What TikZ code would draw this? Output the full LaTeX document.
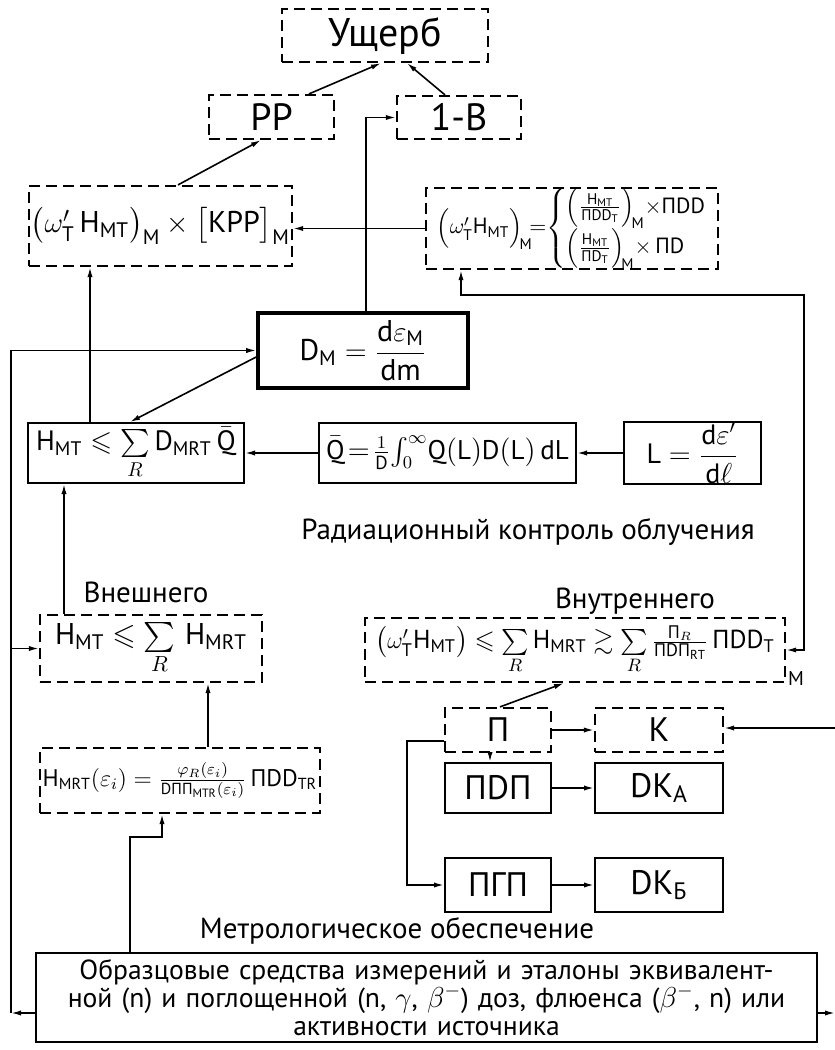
\documentclass[tikz,border=0pt]{standalone}
\usepackage{amsmath,amssymb}
\usepackage{fontspec}
\setmainfont{PT Sans}
\usetikzlibrary{arrows.meta}
\newcommand{\tx}[1]{\text{#1}}
\begin{document}
\begin{tikzpicture}[x=0.5pt,y=-0.5pt,
  base/.style={inner sep=0pt,font=\fontsize{15}{18}\selectfont},
  dbox/.style={base,draw,line width=1.1pt,dash pattern=on 5.5pt off 3pt},
  sbox/.style={base,draw,line width=1pt},
  tbox/.style={base,draw,line width=1.8pt},
  lbl/.style={inner sep=0pt,font=\fontsize{14.5}{17}\selectfont},
  arr/.style={line width=0.8pt,-{Latex[length=5pt,width=2.6pt]}},
  arrb/.style={line width=0.8pt,{Latex[length=5pt,width=2.6pt]}-{Latex[length=5pt,width=2.6pt]}},
  sz/.style 2 args={minimum width=#1pt,minimum height=#2pt}]
\useasboundingbox (0,0) rectangle (835,1050);
\fill[white] (0,0) rectangle (835,1050);

% boxes
\node[dbox,sz={103}{26.5},font=\fontsize{20}{24}\selectfont] (ush) at (385,35.5) {Ущерб};
\node[dbox,sz={62.5}{22},font=\fontsize{19}{22}\selectfont] (rr) at (271.5,117) {РР};
\node[dbox,sz={62}{21.5},font=\fontsize{19}{22}\selectfont] (ib) at (459,117.5) {1-В};
\node[dbox,sz={131.5}{40}] (tl) at (160.5,226)
  {$\bigl(\omega'_{\tx{Т}}\,\tx{H}_{\tx{МТ}}\bigr)_{\tx{М}}\times\bigl[\tx{КРР}\bigr]_{\tx{М}}$};
\node[dbox,sz={146}{40.5},font=\fontsize{11}{12}\selectfont] (tr) at (572,228.5)
  {$\Bigl(\omega'_{\tx{Т}}\tx{H}_{\tx{МТ}}\Bigr)_{\!\tx{М}}\!{=}\!\left\{\renewcommand{\arraystretch}{1.05}\begin{array}{@{}l@{}}\left(\frac{\tx{H}_{\tx{МТ}}}{\tx{ПDD}_{\tx{Т}}}\right)_{\!\tx{М}}\!{\times}\tx{ПDD}\\
   \left(\frac{\tx{H}_{\tx{МТ}}}{\tx{ПD}_{\tx{Т}}}\right)_{\!\tx{М}}\!{\times}\,\tx{ПD}\end{array}\right.$};
\node[tbox,sz={105}{37.5}] (dm) at (363,350.5)
  {$\tx{D}_{\tx{М}}=\dfrac{\tx{d}\varepsilon_{\tx{М}}}{\tx{dm}}$};
\node[sbox,sz={108}{30},font=\fontsize{14}{17}\selectfont] (hq) at (136,453)
  {$\tx{H}_{\tx{МТ}}\leqslant\sum\limits_{R}\tx{D}_{\tx{МRТ}}\,\bar{\tx{Q}}$};
\node[sbox,sz={128.5}{30},font=\fontsize{13.5}{16}\selectfont] (qb) at (447.5,453)
  {$\bar{\tx{Q}}\!=\!\frac{1}{\tx{D}}\!\int_0^\infty\!\tx{Q}(\tx{L})\tx{D}(\tx{L})\,\tx{dL}$};
\node[sbox,sz={68.5}{30},font=\fontsize{14}{17}\selectfont] (lb) at (692.5,453)
  {$\tx{L}=\dfrac{\tx{d}\varepsilon'}{\tx{d}\ell}$};
\node[dbox,sz={111}{33.5}] (he) at (151,648.5)
  {$\tx{H}_{\tx{МТ}}\leqslant\sum\limits_{R}\,\tx{H}_{\tx{МRТ}}$};
\node[dbox,sz={210}{32},font=\fontsize{13}{15}\selectfont] (hi) at (575,650)
  {$\bigl(\omega'_{\tx{Т}}\tx{H}_{\tx{МТ}}\bigr)\leqslant\sum\limits_{R}\tx{H}_{\tx{МRТ}}\gtrsim\sum\limits_{R}\frac{\tx{П}_{R}}{\tx{ПDП}_{\tx{RТ}}}\,\tx{ПDD}_{\tx{Т}}$};
\node[dbox,sz={53}{22},font=\fontsize{17}{20}\selectfont] (p) at (498,730) {П};
\node[dbox,sz={64}{22},font=\fontsize{17}{20}\selectfont] (k) at (659,730) {К};
\node[sbox,sz={53}{25},font=\fontsize{17}{20}\selectfont] (pdp) at (498,788) {ПDП};
\node[sbox,sz={64}{25},font=\fontsize{17}{20}\selectfont] (dka) at (659,788) {DК$_{\tx{А}}$};
\node[sbox,sz={53}{27},font=\fontsize{17}{20}\selectfont] (pgp) at (498,885) {ПГП};
\node[sbox,sz={64}{27},font=\fontsize{17}{20}\selectfont] (dkb) at (659,885) {DК$_{\tx{Б}}$};
\node[dbox,sz={140}{32.5},font=\fontsize{12}{14}\selectfont] (hm) at (180,780.5)
  {$\tx{H}_{\tx{МRТ}}(\varepsilon_i)=\frac{\varphi_R(\varepsilon_i)}{\tx{DПП}_{\tx{МТR}}(\varepsilon_i)}\,\tx{ПDD}_{\tx{ТR}}$};
\node[sbox,sz={390.5}{44.5},text width=386pt,align=center,font=\fontsize{13.8}{14}\selectfont] (bot) at (426.5,997.5)
  {Образцовые средства измерений и эталоны эквивалент-\\
   ной (n) и поглощенной (n, $\gamma$, $\beta^{-}$) доз, флюенса ($\beta^{-}$, n) или\\
   активности источника};

% labels
\node[lbl] (trad) at (528,532) {Радиационный контроль облучения};
\node[lbl] (tvn) at (146,592) {Внешнего};
\node[lbl] (tvnu) at (635,601) {Внутреннего};
\node[lbl,font=\fontsize{10}{12}\selectfont] (tm) at (796,678) {М};
\node[lbl] (tmet) at (397,931) {Метрологическое обеспечение};

% coordinates
\coordinate (rc) at (804,295);
\coordinate (bl) at (11,1013);
\coordinate (br) at (835,1013);
\coordinate (rk) at (835,728);
\coordinate (m1) at (130,837);
\coordinate (lp) at (407,741);

% connectors
\draw[arr] ([xshift=18.75pt]rr.north) -- ([xshift=-2pt]ush.south);
\draw[arr] ([xshift=-7pt]ib.north) -- ([xshift=11pt]ush.south);
\draw[arr] ([xshift=8.75pt]tl.north) -- ([xshift=-5.25pt]rr.south);
\draw[arr] ([xshift=1.5pt]dm.north) |- (ib.west);
\draw[arr] (tr.west) -- (tr.west -| tl.east);
\draw[arrb] ([xshift=-55.5pt]tr.south) |- (rc) |- (hi.east);
\draw[arr] ([xshift=-23pt]hq.north) -- ([xshift=-23pt]hq.north |- tl.south);
\draw[arr] ([yshift=-3.25pt]dm.west) -- ([xshift=-3pt]hq.north);
\draw[arr] ([xshift=-43.5pt]he.north) -- ([xshift=-43.5pt]he.north |- hq.south);
\draw[arr] (qb.west) -- (hq.east);
\draw[arr] (lb.west) -- (qb.east);
\draw[arr] ([yshift=-7.75pt]bot.west) -- (bl);
\draw[arr] (bl) |- (dm.west);
\draw[arr] (bl |- he.west) -- (he.west);
\draw[arr] ([xshift=14pt]hm.north) -- ([xshift=14pt]hm.north |- he.south);
\draw[arr] ([xshift=-148.25pt]bot.north) -- (m1) -| ([xshift=-9pt]hm.south);
\draw[arr] (p.east) -- (k.west);
\draw[arr] (rk) -- (rk -| k.east);
\draw[arr] ([yshift=-7.75pt]bot.east) -- (br);
\draw[arr] ([xshift=-4pt]p.south) -- ([xshift=-4pt]pdp.north);
\draw[arr] (pdp.east) -- (dka.west);
\draw[arr] ([yshift=-5.5pt]p.west) -- (lp) |- (pgp.west);
\draw[arr] (pgp.east) -- (dkb.west);
\draw[arr] ([xshift=1pt]p.north) -- ([xshift=-5.5pt]hi.south);
\end{tikzpicture}
\end{document}
